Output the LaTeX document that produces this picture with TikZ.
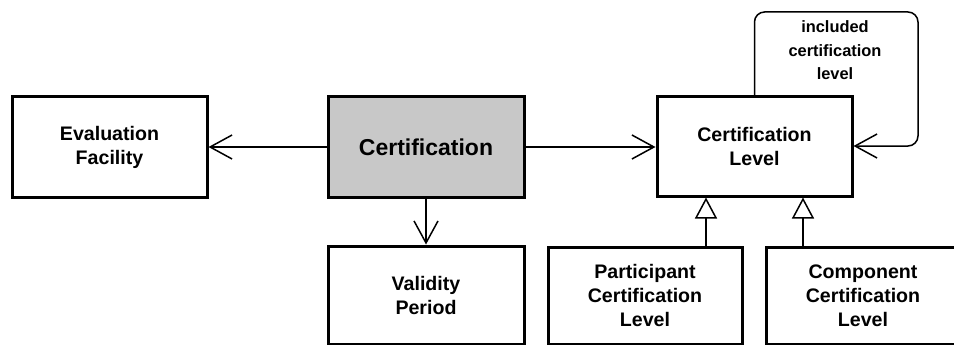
\documentclass[tikz,border=0pt]{standalone}
\usepackage{fontspec}
\setmainfont{Liberation Sans}
\usetikzlibrary{arrows.meta}
\definecolor{certgray}{HTML}{C8C8C8}
\tikzset{
  box/.style={draw=black, line width=3pt, fill=white, inner sep=0pt, align=center,
    font=\bfseries\fontsize{19.6}{24}\selectfont},
  assoc/.style={line width=1.5pt, -{Straight Barb[length=22pt,width=24pt,line width=1.5pt]}},
  gen/.style={line width=1.5pt, -{Triangle[open,length=21pt,width=22pt,line width=1.5pt,fill=white]}},
  lbl/.style={align=center, font=\bfseries\fontsize{16.4}{23.5}\selectfont, inner sep=0pt}
}
\begin{document}
\begin{tikzpicture}[x=1pt,y=-1pt]
\clip (0,0) rectangle (954,345);
\useasboundingbox (0,0) rectangle (954,345);
\fill[white] (0,0) rectangle (954,345);
\node[box, minimum width=195pt, minimum height=100pt] (ef) at (109.5,147) {Evaluation\\Facility};
\node[box, fill=certgray, minimum width=196pt, minimum height=100pt,
  font=\bfseries\fontsize{23}{28}\selectfont] (cert) at (426,147) {Certification};
\node[box, minimum width=195pt, minimum height=99pt] (cl) at (754.5,146.5) {Certification\\Level};
\node[box, minimum width=196pt, minimum height=98pt] (vp) at (426,295) {Validity\\Period};
\node[box, minimum width=194pt, minimum height=97pt] (pcl) at (645,295.5) {Participant\\Certification\\Level};
\node[box, minimum width=194pt, minimum height=97pt] (ccl) at (863,295.5) {Component\\Certification\\Level};
\draw[assoc] (cert.west) -- (ef.east);
\draw[assoc] (cert.east) -- (cl.west |- cert.east);
\draw[assoc] (cert.south) -- (vp.north);
\draw[gen] (pcl.north -| 706,0) -- (cl.south -| 706,0);
\draw[gen] (ccl.north -| 803,0) -- (cl.south -| 803,0);
\coordinate (lpA) at (cl.north |- 0,12);
\coordinate (lpB) at (918,12);
\coordinate (lpC) at (918,146);
\draw[assoc, rounded corners=10pt] (cl.north) -- (lpA) -- (lpB) -- (lpC) -- (cl.east |- lpC);
\node[lbl] (inc) at (835,50.5) {included\\certification\\level};
\end{tikzpicture}
\end{document}
